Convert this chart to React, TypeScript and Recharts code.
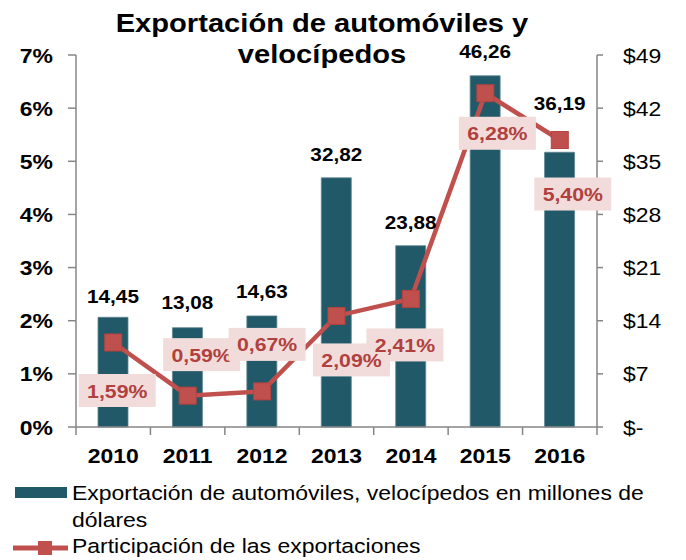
import React from 'react';
import { ComposedChart, Bar, Line, XAxis, YAxis, LabelList } from 'recharts';

const years = ['2010', '2011', '2012', '2013', '2014', '2015', '2016'];
const exportValues = [14.45, 13.08, 14.63, 32.82, 23.88, 46.26, 36.19];
const shareValues = [1.59, 0.59, 0.67, 2.09, 2.41, 6.28, 5.4];
const leftTicks = [0, 1, 2, 3, 4, 5, 6, 7];
const rightTicks = [0, 7, 14, 21, 28, 35, 42, 49];

const data = years.map((year, i) => ({ year, exp: exportValues[i], share: shareValues[i] }));

// label placement tweaks (style only)
const barLabelLift = [-21, -25, -24, -23, -23, -24, -49];
const shareLabelShift: [number, number][] = [
  [4, 48], [14, -41], [5, -47], [15, 44], [-6, 46], [12, 40], [13, 54],
];
const textOnTop = [3, 4]; // these labels keep their text above both boxes

const FONT = '"Liberation Sans", Arial, sans-serif';
const AXIS = '#868686';
const BAR = '#215968';
const RED = '#C0504D';
const BAND = (597 - 76) / 7;
const S = 1.12; // horizontal stretch of the reference lettering
const TICK = 20.5;

const fmt = (v: number) => v.toFixed(2).replace('.', ',');

const SText = (p: { x: number; y: number; anchor: 'start' | 'middle' | 'end'; size: number; bold?: boolean; fill?: string; children: any }) => (
  <text
    transform={`translate(${p.x} ${p.y}) scale(${S} 1)`}
    x={0}
    y={0}
    textAnchor={p.anchor}
    fontFamily={FONT}
    fontWeight={p.bold ? 'bold' : 'normal'}
    fontSize={p.size}
    fill={p.fill ?? '#000'}
  >
    {p.children}
  </text>
);

const getIdx = (props: any, arr: number[]) => {
  if (typeof props.index === 'number') return props.index;
  return arr.indexOf(Number(props.value));
};

const BarLabel = (props: any) => {
  const vb = props.viewBox || {};
  const x = props.x ?? vb.x;
  const y = props.y ?? vb.y;
  const w = props.width ?? vb.width ?? 0;
  const i = getIdx(props, exportValues);
  const cy = y + (barLabelLift[i] ?? -23);
  return (
    <SText x={x + w / 2} y={cy + 6.5} anchor="middle" size={18.5} bold>
      {fmt(Number(props.value))}
    </SText>
  );
};

type Mode = 'normal' | 'box' | 'text';
const makeShareLabel = (mode: Mode) => (props: any) => {
  const vb = props.viewBox || {};
  const x = props.x ?? vb.x;
  const y = props.y ?? vb.y;
  const i = getIdx(props, shareValues);
  const special = textOnTop.includes(i);
  if ((mode === 'normal') === special) return null;
  const [dx, dy] = shareLabelShift[i] ?? [0, 40];
  const cx = x + dx;
  const cy = y + dy;
  return (
    <g>
      {mode !== 'text' && <rect x={cx - 38.5} y={cy - 16.5} width={77} height={33} fill="#F2DCDB" />}
      {mode !== 'box' && (
        <SText x={cx} y={cy + 7} anchor="middle" size={19} bold fill="#B0413E">
          {fmt(Number(props.value))}%
        </SText>
      )}
    </g>
  );
};
const ShareLabelNormal = makeShareLabel('normal');
const ShareLabelBox = makeShareLabel('box');
const ShareLabelText = makeShareLabel('text');

const XTick = (props: any) => {
  const { x, y, payload, index } = props;
  const left = x - BAND / 2;
  const right = x + BAND / 2;
  return (
    <g>
      <line x1={left} y1={y} x2={left} y2={y + 8} stroke={AXIS} strokeWidth={1.5} />
      {index === years.length - 1 && <line x1={right} y1={y} x2={right} y2={y + 8} stroke={AXIS} strokeWidth={1.5} />}
      <SText x={x} y={y + 36} anchor="middle" size={TICK} bold>
        {payload.value}
      </SText>
    </g>
  );
};

const LeftTick = (props: any) => {
  const { x, y, payload } = props;
  return (
    <SText x={x} y={y + 7.5} anchor="end" size={TICK} bold>
      {`${payload.value}%`}
    </SText>
  );
};

const RightTick = (props: any) => {
  const { x, y, payload } = props;
  const v = Number(payload.value);
  return (
    <SText x={x} y={y + 7.5} anchor="start" size={TICK}>
      {v === 0 ? '$-' : `$${v}`}
    </SText>
  );
};

const SquareDot = (props: any) => {
  const { cx, cy } = props;
  if (cx == null || cy == null) return null;
  return <rect x={cx - 8.5} y={cy - 8.5} width={17} height={17} fill={RED} stroke="#B5433F" strokeWidth={1} />;
};

export default function App() {
  return (
    <div style={{ position: 'absolute', left: 0, top: 0, width: 686, height: 560, background: '#fff', fontFamily: FONT }}>
      <div
        style={{
          position: 'absolute', left: 0, top: 8, width: 644, textAlign: 'center',
          fontSize: 26, fontWeight: 'bold', lineHeight: '31px', color: '#000', zIndex: 2,
          transform: `scaleX(${S})`, transformOrigin: '322px 0',
        }}
      >
        Exportación de automóviles y<br />velocípedos
      </div>
      <ComposedChart
        width={686}
        height={560}
        data={data}
        margin={{ top: 55, right: 0, bottom: 93, left: 0 }}
        style={{ fontFamily: FONT }}
      >
        <XAxis
          dataKey="year"
          height={40}
          axisLine={{ stroke: AXIS, strokeWidth: 1.5 }}
          tickLine={false}
          tickSize={0}
          tickMargin={0}
          interval={0}
          tick={<XTick />}
        />
        <YAxis
          yAxisId="left"
          orientation="left"
          width={76}
          domain={[0, 7]}
          ticks={leftTicks}
          axisLine={{ stroke: AXIS, strokeWidth: 1.5 }}
          tickLine={{ stroke: AXIS, strokeWidth: 1.5 }}
          tickSize={8}
          tickMargin={15}
          tick={<LeftTick />}
        />
        <YAxis
          yAxisId="right"
          orientation="right"
          width={89}
          domain={[0, 49]}
          ticks={rightTicks}
          axisLine={{ stroke: AXIS, strokeWidth: 1.5 }}
          tickLine={{ stroke: AXIS, strokeWidth: 1.5 }}
          tickSize={6}
          tickMargin={20}
          tick={<RightTick />}
        />
        <Bar yAxisId="right" dataKey="exp" fill={BAR} stroke="#5f8590" strokeWidth={0.8} barSize={30} isAnimationActive={false}>
          <LabelList dataKey="exp" content={<BarLabel />} />
        </Bar>
        <Line
          yAxisId="left"
          dataKey="share"
          stroke={RED}
          strokeWidth={4.5}
          dot={<SquareDot />}
          activeDot={false}
          isAnimationActive={false}
        >
          <LabelList dataKey="share" content={<ShareLabelNormal />} />
          <LabelList dataKey="share" content={<ShareLabelBox />} />
          <LabelList dataKey="share" content={<ShareLabelText />} />
        </Line>
      </ComposedChart>
      <div style={{ position: 'absolute', left: 0, top: 0, width: 686, height: 560, pointerEvents: 'none' }}>
        <svg width={80} height={560} style={{ position: 'absolute', left: 0, top: 0 }}>
          <rect x={15} y={487} width={52} height={11} fill={BAR} />
          <line x1={13} y1={548} x2={68} y2={548} stroke={RED} strokeWidth={5} />
          <rect x={38} y={541} width={14} height={14} fill={RED} />
        </svg>
        <div
          style={{
            position: 'absolute', left: 72, top: 480, fontSize: 20.5, lineHeight: '26.5px', color: '#000',
            whiteSpace: 'nowrap', transform: `scaleX(${S})`, transformOrigin: '0 0',
          }}
        >
          <div>Exportación de automóviles, velocípedos en millones de</div>
          <div>dólares</div>
          <div>Participación de las exportaciones</div>
        </div>
      </div>
    </div>
  );
}
